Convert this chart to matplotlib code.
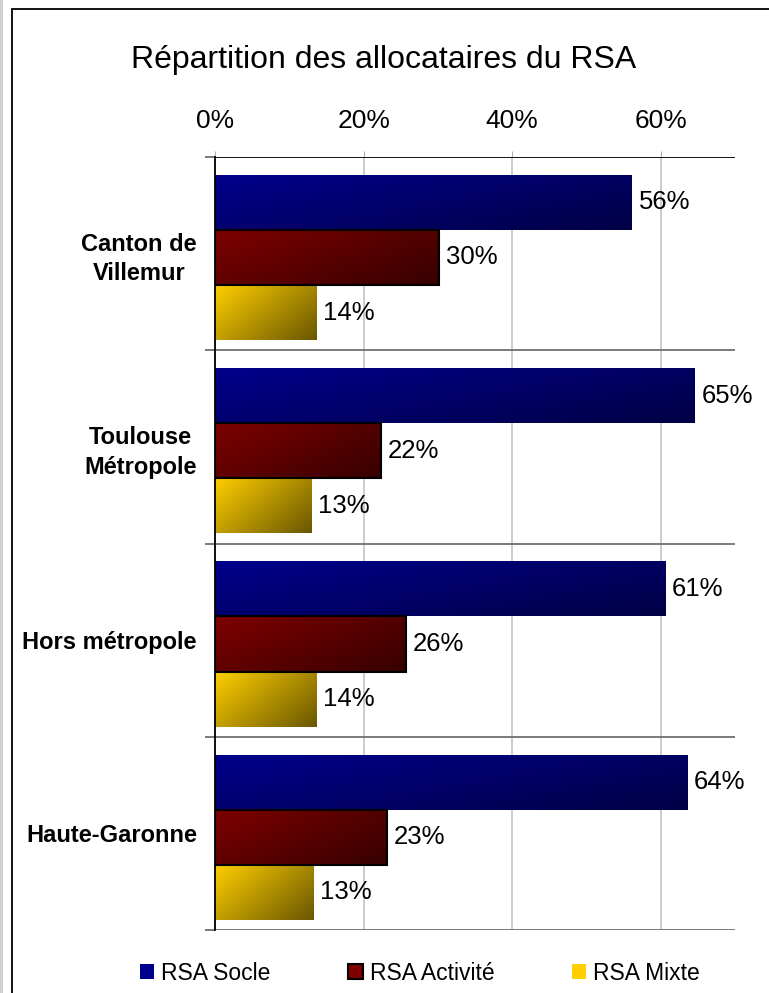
import matplotlib
matplotlib.use("Agg")
import matplotlib.pyplot as plt
import numpy as np
from matplotlib.patches import Rectangle, Patch
from matplotlib.legend_handler import HandlerPatch

categories = ["Canton de\nVillemur", "Toulouse\nMétropole", "Hors métropole", "Haute-Garonne"]
series_names = ["RSA Socle", "RSA Activité", "RSA Mixte"]
socle = [56.1, 64.6, 60.6, 63.6]
activite = [30.2, 22.4, 25.7, 23.2]
mixte = [13.7, 13.0, 13.7, 13.2]
xticks = [0, 20, 40, 60]
xtick_labels = ["0%", "20%", "40%", "60%"]
title = "Répartition des allocataires du RSA"

grad_colors = [("#00008c", "#000046"), ("#7e0000", "#360000"), ("#ffcf00", "#6a5700")]
edge = [None, "black", None]

FONT = ["Liberation Sans", "DejaVu Sans"]

fig = plt.figure(figsize=(7.69, 9.93), dpi=100)
ax = fig.add_axes([215/769, 1-930/993, (735-215)/769, (930-157)/993])

def grad_img(c1, c2, n=64):
    a = np.array(matplotlib.colors.to_rgb(c1))
    b = np.array(matplotlib.colors.to_rgb(c2))
    xx, yy = np.meshgrid(np.linspace(0, 1, n), np.linspace(0, 1, n))
    t = (0.6*xx + 0.4*yy)
    t = t / t.max()
    return a[None, None, :]*(1-t[..., None]) + b[None, None, :]*t[..., None]

h = 0.285
shift = 0.02
series = [socle, activite, mixte]
ax.set_xlim(0, 70)
ax.set_ylim(3.5, -0.5)
for si, vals in enumerate(series):
    for ci, v in enumerate(vals):
        yc = ci + shift + (si-1)*h
        bars = ax.barh([yc], [v], height=h, color="none",
                       edgecolor=edge[si] if edge[si] else "none",
                       linewidth=1.5 if edge[si] else 0, zorder=3)
        rect = bars.patches[0]
        im = ax.imshow(grad_img(*grad_colors[si]), extent=(0, v, yc+h/2, yc-h/2),
                       origin="upper", aspect="auto", zorder=2, interpolation="bilinear")
        im.set_clip_path(rect)
        ax.text(v + 0.9, yc, f"{round(v):d}%", va="center", ha="left",
                fontsize=18.5, family=FONT, color="black", zorder=4)
ax.set_xlim(0, 70)
ax.set_ylim(3.5, -0.5)

# x axis on top
ax.xaxis.tick_top()
ax.set_xticks(xticks)
ax.set_xticklabels(xtick_labels, fontsize=19, family=FONT)
ax.tick_params(axis="x", length=4, color="#b0b0b0", pad=13)
ax.grid(axis="x", color="#c8c8c8", linewidth=1.3, zorder=0)
ax.set_axisbelow(True)

# y axis
ax.set_yticks(range(len(categories)))
ax.set_yticklabels(categories, fontsize=17, family=FONT, fontweight="bold",
                   multialignment="center", linespacing=1.35)
ax.tick_params(axis="y", which="major", length=0, pad=13)
bounds = np.arange(-0.5, len(categories)+0.5, 1)
ax.set_yticks(bounds, minor=True)
ax.tick_params(axis="y", which="minor", length=7, color="#707070", width=1.3)
for b in bounds:
    ax.axhline(b, color="#707070" if b != -0.5 else "black", linewidth=1.3, zorder=1)

for s in ["right", "bottom", "top"]:
    ax.spines[s].set_visible(False)
ax.spines["left"].set_color("black")
ax.spines["left"].set_linewidth(1.3)

fig.text(384/769, 1-60/993, title, ha="center", va="center", fontsize=23, family=FONT)

# legend
class GradHandler(HandlerPatch):
    def create_artists(self, legend, orig_handle, xdescent, ydescent, width, height, fontsize, trans):
        size = min(width, height)
        p = Rectangle((-xdescent + (width-size)/2, -ydescent + (height-size)/2), size, size,
                      facecolor=orig_handle.get_facecolor(),
                      edgecolor=orig_handle.get_edgecolor(), linewidth=orig_handle.get_linewidth(),
                      transform=trans)
        return [p]

handles = [Patch(facecolor=grad_colors[i][0], edgecolor=edge[i] if edge[i] else "none",
                 linewidth=1.5 if edge[i] else 0, label=series_names[i]) for i in range(3)]
leg = fig.legend(handles=handles, loc="center", bbox_to_anchor=(420/769, 1-973/993), ncol=3,
                 frameon=False, prop={"family": FONT, "size": 16.5}, handlelength=0.62,
                 handleheight=0.62, handletextpad=0.3, columnspacing=3.4, borderpad=0,
                 handler_map={Patch: GradHandler()})

# figure border
fig.patches.append(Rectangle((12/769, -0.01), 1.02, 1.01-9/993, transform=fig.transFigure,
                             fill=False, edgecolor="black", linewidth=1.3))
fig.patches.append(Rectangle((0, 0), 3/769, 1, transform=fig.transFigure,
                             facecolor="#d0d0d0", edgecolor="none"))

fig.savefig("out.png", dpi=100)
